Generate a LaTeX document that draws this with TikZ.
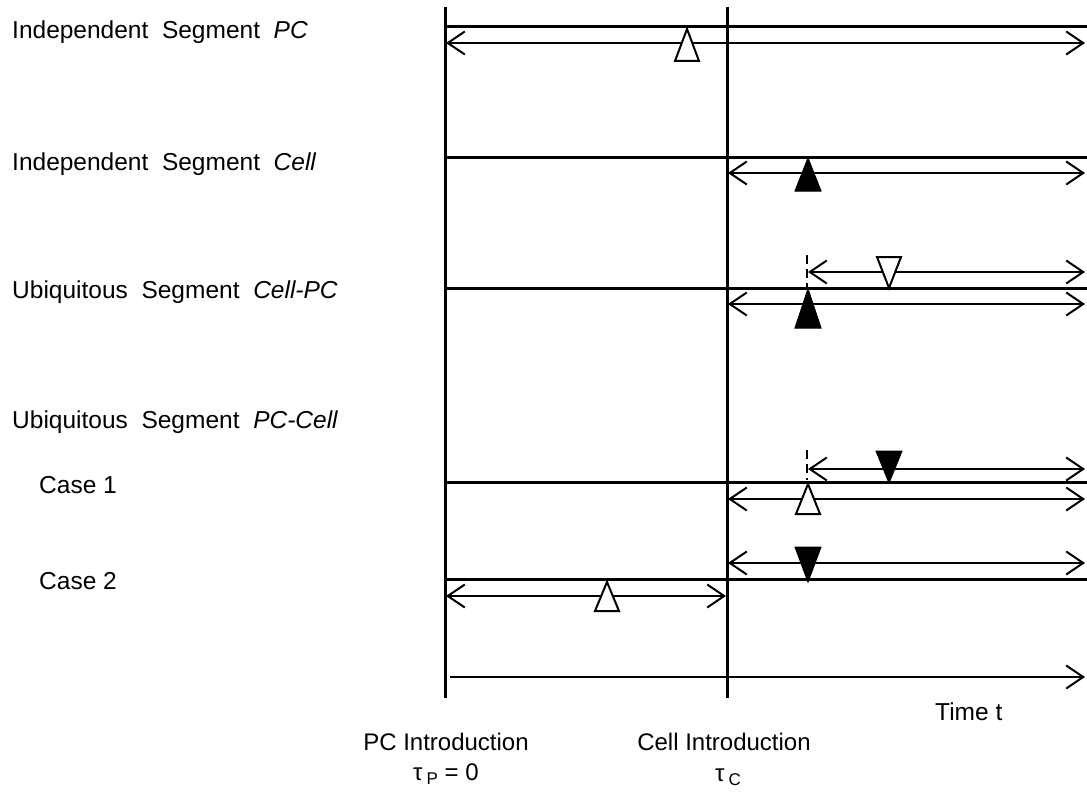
\documentclass[tikz,border=0pt]{standalone}
\usepackage{fontspec}
\setmainfont{Liberation Sans}
\usetikzlibrary{arrows.meta}
\begin{document}
\begin{tikzpicture}[x=1pt,y=-1pt,
  seg/.style={line width=3pt},
  dbl/.style={line width=2pt,{Straight Barb[length=17pt,width=23pt]}-{Straight Barb[length=17pt,width=23pt]}},
  sgl/.style={line width=2pt,-{Straight Barb[length=17pt,width=23pt]}},
  openmark/.style={draw,line width=2pt,fill=white,line join=miter},
  fullmark/.style={draw,line width=1pt,fill=black},
  dsh/.style={line width=2pt,dash pattern=on 9pt off 5pt},
  lbl/.style={anchor=base west,inner sep=0pt,font=\fontsize{24.5}{28}\selectfont},
  blbl/.style={anchor=base,inner sep=0pt,font=\fontsize{24}{28}\selectfont}]
\useasboundingbox (0,0) rectangle (1087,792);
% vertical lines
\coordinate (p0) at (445,7); \coordinate (p1) at (445,698);
\coordinate (c0) at (727,7); \coordinate (c1) at (727,698);
\draw[seg] (p0) -- (p1);
\draw[seg] (c0) -- (c1);
% row 1
\coordinate (a1) at (445,27); \coordinate (b1) at (1087,27);
\draw[seg] (a1) -- (b1);
\coordinate (a2) at (446,43); \coordinate (b2) at (1085,43);
\draw[dbl] (a2) -- (b2);
\draw[openmark] (687,29) -- (699,61) -- (675,61) -- cycle;
% row 2
\coordinate (a3) at (445,157); \coordinate (b3) at (1087,157);
\draw[seg] (a3) -- (b3);
\coordinate (a4) at (728,173); \coordinate (b4) at (1085,173);
\draw[dbl] (a4) -- (b4);
\draw[fullmark] (808,158) -- (821,191) -- (795,191) -- cycle;
% row 3
\coordinate (d0) at (807,255); \coordinate (d1) at (807,287);
\draw[dsh] (d0) -- (d1);
\coordinate (a5) at (808,272); \coordinate (b5) at (1085,272);
\draw[dbl] (a5) -- (b5);
\coordinate (a6) at (445,288); \coordinate (b6) at (1087,288);
\draw[seg] (a6) -- (b6);
\draw[openmark] (877,257) -- (901,257) -- (889,288) -- cycle;
\coordinate (a7) at (728,304); \coordinate (b7) at (1085,304);
\draw[dbl] (a7) -- (b7);
\draw[fullmark] (808,289) -- (821,328) -- (795,328) -- cycle;
% row 4 (case 1)
\coordinate (d2) at (807,450); \coordinate (d3) at (807,480);
\draw[dsh] (d2) -- (d3);
\coordinate (a8) at (808,469); \coordinate (b8) at (1085,469);
\draw[dbl] (a8) -- (b8);
\draw[fullmark] (876,451) -- (902,451) -- (889,483) -- cycle;
\coordinate (a9) at (445,482); \coordinate (b9) at (1087,482);
\draw[seg] (a9) -- (b9);
\coordinate (a10) at (728,499); \coordinate (b10) at (1085,499);
\draw[dbl] (a10) -- (b10);
\draw[openmark] (808,484) -- (820,514) -- (796,514) -- cycle;
% row 5 (case 2)
\coordinate (a11) at (728,563); \coordinate (b11) at (1085,563);
\draw[dbl] (a11) -- (b11);
\draw[fullmark] (795,547) -- (821,547) -- (808,582) -- cycle;
\coordinate (a12) at (445,579); \coordinate (b12) at (1087,579);
\draw[seg] (a12) -- (b12);
\coordinate (a13) at (446,596); \coordinate (b13) at (726,596);
\draw[dbl] (a13) -- (b13);
\draw[openmark] (607,582) -- (619,611) -- (595,611) -- cycle;
% time axis
\coordinate (t0) at (450,677); \coordinate (t1) at (1085,677);
\draw[sgl] (t0) -- (t1);
% labels
\node[lbl] (l1) at (12,39) {Independent\ \ Segment\ \ \textit{PC}};
\node[lbl] (l2) at (12,170) {Independent\ \ Segment\ \ \textit{Cell}};
\node[lbl] (l3) at (12,298) {Ubiquitous\ \ Segment\ \ \textit{Cell-PC}};
\node[lbl] (l4) at (12,428) {Ubiquitous\ \ Segment\ \ \textit{PC-Cell}};
\node[lbl] (l5) at (39,493) {Case 1};
\node[lbl] (l6) at (39,589) {Case 2};
\node[lbl] (lt) at (935,720) {Time t};
\node[blbl] (lp) at (446,750) {PC Introduction};
\node[blbl] (lc) at (724,750) {Cell Introduction};
\node[blbl] (tp) at (446,780) {τ\,\raisebox{-0.35ex}{\fontsize{17}{17}\selectfont P} = 0};
\node[blbl] (tc) at (728,781) {τ\,\raisebox{-0.35ex}{\fontsize{17}{17}\selectfont C}};
\end{tikzpicture}
\end{document}
